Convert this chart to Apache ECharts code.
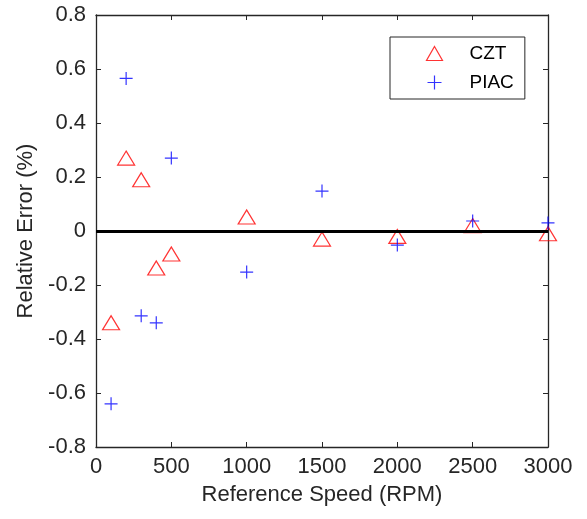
<!DOCTYPE html>
<html>
<head>
<meta charset="utf-8">
<script src="https://cdn.jsdelivr.net/npm/echarts@6/dist/echarts.min.js"></script>
<style>
  html, body { margin: 0; padding: 0; background: #fff; }
  #chart { width: 587px; height: 519px; }
</style>
</head>
<body>
<div id="chart"></div>
<script>
// speeds (RPM) and relative errors (%)
var speeds = [100, 200, 300, 400, 500, 1000, 1500, 2000, 2500, 3000];
var cztErr = [-0.34, 0.27, 0.19, -0.137, -0.085, 0.052, -0.03, -0.02, 0.02, -0.01];
var piacErr = [-0.64, 0.565, -0.314, -0.34, 0.27, -0.152, 0.148, -0.052, 0.037, 0.03];

var plusPath = 'path://M0,5L10,5M5,0L5,10';
var axisColor = '#262626';
var font = 'Liberation Sans, Arial, sans-serif';

function pairs(xs, ys) {
    return xs.map(function (x, i) { return [x, ys[i]]; });
}

var chart = echarts.init(document.getElementById('chart'));
var option = {
    backgroundColor: '#fff',
    animation: false,
    grid: { left: 96, right: 39, top: 15, bottom: 72 },
    legend: {
        orient: 'vertical',
        left: 390,
        top: 37,
        padding: [7, 11, 7, 34],
        itemGap: 10,
        itemWidth: 16,
        itemHeight: 14,
        borderColor: axisColor,
        borderWidth: 1,
        textStyle: { fontFamily: font, fontSize: 19, color: '#000', padding: [0, 0, 0, 22] },
        data: [
            { name: 'CZT', icon: 'triangle', itemStyle: { color: 'none', borderColor: '#ff0000', borderWidth: 1.2 } },
            { name: 'PIAC', icon: plusPath, itemStyle: { color: 'none', borderColor: '#0000ff', borderWidth: 1.2 } }
        ]
    },
    xAxis: [
        {
            type: 'value', min: 0, max: 3000, interval: 500,
            name: 'Reference Speed (RPM)', nameLocation: 'middle', nameGap: 37,
            nameTextStyle: { fontFamily: font, fontSize: 22, color: axisColor },
            axisLine: { onZero: false, lineStyle: { color: axisColor, width: 1.3 } },
            axisTick: { inside: true, length: 5, lineStyle: { color: axisColor } },
            axisLabel: {
                fontFamily: font, fontSize: 22, color: axisColor, margin: 9,
                formatter: function (v) { return String(v); }
            },
            splitLine: { show: false }
        },
        {
            type: 'value', min: 0, max: 3000, interval: 500, position: 'top',
            axisLine: { show: true, onZero: false, lineStyle: { color: axisColor, width: 1.3 } },
            axisTick: { show: true, inside: true, length: 5, lineStyle: { color: axisColor } },
            axisLabel: { show: false },
            splitLine: { show: false }
        }
    ],
    yAxis: [
        {
            type: 'value', min: -0.8, max: 0.8, interval: 0.2,
            name: 'Relative Error (%)', nameLocation: 'middle', nameGap: 57,
            nameTextStyle: { fontFamily: font, fontSize: 22, color: axisColor },
            axisLine: { onZero: false, lineStyle: { color: axisColor, width: 1.3 } },
            axisTick: { inside: true, length: 5, lineStyle: { color: axisColor } },
            axisLabel: {
                fontFamily: font, fontSize: 22, color: axisColor, margin: 10,
                formatter: function (v) { return String(+v.toFixed(1)); }
            },
            splitLine: { show: false }
        },
        {
            type: 'value', min: -0.8, max: 0.8, interval: 0.2, position: 'right',
            axisLine: { show: true, onZero: false, lineStyle: { color: axisColor, width: 1.3 } },
            axisTick: { show: true, inside: true, length: 5, lineStyle: { color: axisColor } },
            axisLabel: { show: false },
            splitLine: { show: false }
        }
    ],
    series: [
        {
            name: 'CZT',
            type: 'scatter',
            symbol: 'triangle',
            symbolSize: [17, 14],
            itemStyle: { color: 'none', borderColor: '#ff0000', borderWidth: 1.2 },
            data: pairs(speeds, cztErr),
            markLine: {
                silent: true,
                symbol: 'none',
                label: { show: false },
                lineStyle: { color: '#000', width: 3, type: 'solid' },
                data: [{ yAxis: 0 }]
            },
            z: 3
        },
        {
            name: 'PIAC',
            type: 'scatter',
            symbol: plusPath,
            symbolSize: 13,
            itemStyle: { color: 'none', borderColor: '#0000ff', borderWidth: 1.2 },
            data: pairs(speeds, piacErr),
            z: 4
        }
    ]
};
chart.setOption(option);
</script>
</body>
</html>
